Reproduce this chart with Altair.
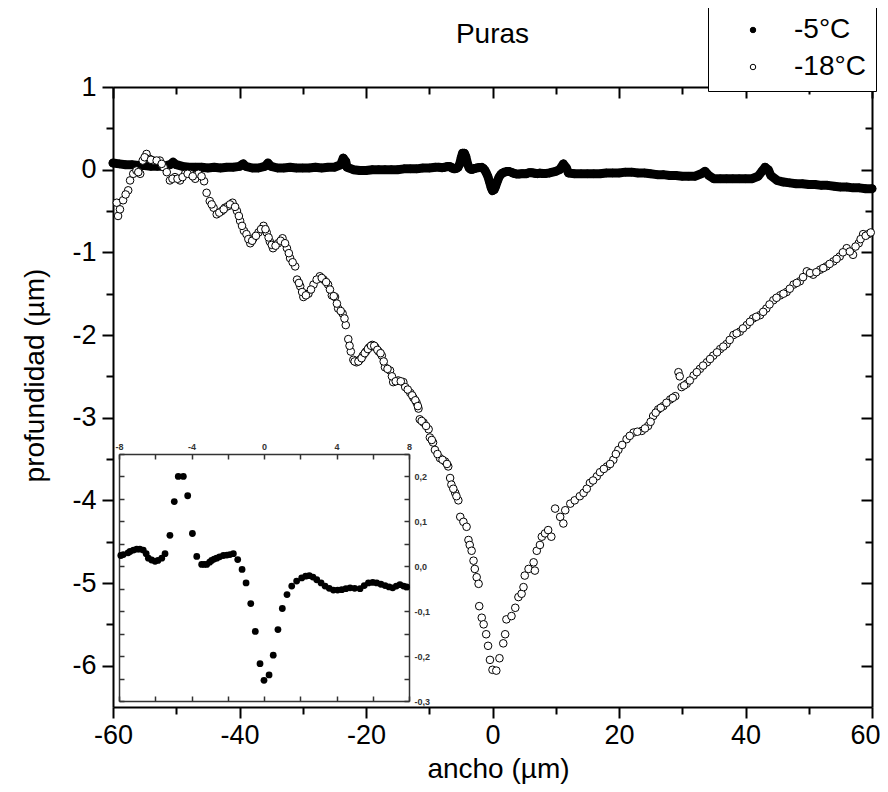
import altair as alt
import pandas as pd

# ---------------- data ----------------
# -5 °C profile outside the inset window (main plot)
x5_left = [-60, -59, -58, -57, -56, -55, -54, -53, -52, -51, -50.5, -50, -49, -48, -47, -46, -45, -44, -43, -42,
           -41, -40, -39.4, -39, -38, -37, -36, -35.5, -35, -34, -33, -32, -31, -30, -29, -28, -27, -26, -25, -24,
           -23.6, -23.2, -23, -22, -21, -20, -19, -18, -17, -16, -15, -14, -13, -12, -11, -10, -9, -8.5]
y5_left = [0.08, 0.07, 0.06, 0.06, 0.05, 0.05, 0.04, 0.04, 0.04, 0.06, 0.09, 0.06, 0.04, 0.03, 0.03, 0.03, 0.02, 0.03, 0.02, 0.03,
           0.03, 0.04, 0.07, 0.04, 0.02, 0.02, 0.04, 0.08, 0.04, 0.02, 0.02, 0.03, 0.02, 0.02, 0.02, 0.03, 0.02, 0.03, 0.03, 0.06,
           0.14, 0.10, 0.03, 0.0, -0.01, -0.01, 0.0, 0.0, 0.0, 0.0, 0.0, 0.01, 0.01, 0.01, 0.02, 0.02, 0.03, 0.03]

# -5 °C profile in the inset window (-8 .. 8 µm)
x_in = [-7.9, -7.76, -7.5, -7.39, -7.2, -7.02, -6.85, -6.66, -6.5, -6.38, -6.2, -6.01, -5.85, -5.64, -5.46, -5.19,
        -4.95, -4.73, -4.45, -4.21, -3.95, -3.71, -3.44, -3.3, -3.16, -3.0, -2.89, -2.75, -2.61, -2.45, -2.24, -2.05,
        -1.88, -1.69, -1.45, -1.21, -0.99, -0.73, -0.48, -0.22, 0.0, 0.28, 0.51, 0.77, 1.01, 1.27, 1.53, 1.8, 2.08,
        2.3, 2.5, 2.7, 2.91, 3.15, 3.37, 3.6, 3.83, 4.06, 4.29, 4.52, 4.75, 5.0, 5.3, 5.53, 5.76, 6.0, 6.22, 6.45,
        6.68, 6.9, 7.1, 7.3, 7.5, 7.7, 7.87]
y_in = [0.024, 0.026, 0.030, 0.033, 0.036, 0.038, 0.038, 0.036, 0.028, 0.018, 0.014, 0.011, 0.013, 0.018, 0.028, 0.069,
        0.144, 0.200, 0.200, 0.157, 0.073, 0.022, 0.004, 0.004, 0.004, 0.009, 0.013, 0.016, 0.018, 0.021, 0.024, 0.025,
        0.026, 0.028, 0.015, -0.007, -0.037, -0.083, -0.145, -0.217, -0.254, -0.242, -0.198, -0.141, -0.094, -0.063,
        -0.044, -0.033, -0.026, -0.022, -0.021, -0.024, -0.030, -0.037, -0.044, -0.049, -0.053, -0.053, -0.052, -0.050,
        -0.048, -0.049, -0.050, -0.043, -0.037, -0.036, -0.037, -0.040, -0.043, -0.046, -0.048, -0.044, -0.041, -0.044,
        -0.046]

x5_right = [8.5, 9, 10, 10.6, 11.2, 11.7, 12, 13, 14, 15, 16, 17, 18, 19, 20, 21, 22, 23, 24, 25, 26, 27, 28, 29, 30,
            31, 32, 33, 33.6, 34.2, 35, 36, 37, 38, 39, 40, 41, 42, 42.6, 43.1, 43.6, 44, 45, 46, 47, 48, 49, 50, 51,
            52, 53, 54, 55, 56, 57, 58, 59, 60]
y5_right = [-0.045, -0.04, -0.02, 0.0, 0.07, 0.02, -0.04, -0.05, -0.05, -0.05, -0.05, -0.05, -0.04, -0.04, -0.04, -0.03,
            -0.03, -0.04, -0.04, -0.05, -0.06, -0.06, -0.07, -0.07, -0.08, -0.08, -0.08, -0.05, -0.02, -0.07, -0.11,
            -0.11, -0.11, -0.11, -0.11, -0.11, -0.11, -0.08, -0.02, 0.03, 0.0, -0.07, -0.13, -0.15, -0.16, -0.17, -0.17,
            -0.18, -0.18, -0.19, -0.19, -0.20, -0.21, -0.21, -0.22, -0.22, -0.23, -0.23]

# -18 °C profile (first pass of readings)
x18_a = [-59.4, -59.2, -58.9, -58.4, -57.6, -57.3, -56.8, -56.3, -55.7, -55.3, -54.7, -54.2, -53.6, -52.6, -52.0, -51.5,
         -51.0, -50.2, -49.4, -48.6, -47.8, -47.0, -46.5, -45.6, -45.2, -44.7, -44.1, -43.6, -42.8, -42.3, -41.8, -41.1,
         -40.4, -39.9, -39.3, -38.9, -38.3, -37.8, -37.0, -36.2, -35.7, -35.2, -34.7, -33.9, -33.2, -32.5, -32.0, -31.2,
         -30.9, -30.4, -29.9, -29.1, -28.3, -27.3, -26.7, -26.0, -25.4, -24.9, -24.4, -23.7, -23.2, -22.8, -22.4, -22.0,
         -21.5, -21.0, -20.5, -20.0, -19.5, -19.0, -18.5, -18.0, -17.5, -17.0, -16.2, -15.7, -14.9, -14.1, -13.8, -13.0,
         -12.5, -12.0, -11.7, -11.5, -10.9, -10.1, -9.9, -9.4, -9.1, -8.3, -7.5, -7.0, -6.7, -6.5, -5.9, -5.4, -5.1, -4.6,
         -4.1, -3.8, -3.6, -3.3, -3.0, -2.8, -2.5, -2.2, -2.1, -1.7, -1.4, -1.0, -0.7, -0.4, 0.0, 0.6, 1.1, 1.7, 2.0, 2.2,
         3.0, 3.6, 4.1, 4.6, 4.9, 5.1, 5.7, 6.5, 6.7, 7.0, 7.5, 7.8, 8.3, 8.8, 9.3, 9.9, 10.7, 11.2, 11.5, 12.3, 13.0,
         13.8, 14.4, 15.4, 16.5, 18.1, 19.1, 19.9, 21.2, 22.3, 23.6, 24.6, 25.4, 26.2, 27.0, 28.1, 28.9, 29.4, 29.9, 30.7,
         31.8, 32.8, 33.9, 34.9, 36.0, 37.0, 38.1, 39.1, 40.2, 41.2, 42.3, 43.3, 44.4, 45.5, 46.5, 47.6, 48.6, 49.7, 50.7,
         51.8, 52.8, 53.9, 54.9, 56.0, 57.0, 57.9, 58.6, 59.4]
y18_a = [-0.40, -0.56, -0.48, -0.37, -0.25, -0.13, -0.05, -0.01, -0.05, 0.11, 0.19, 0.13, 0.11, 0.11, 0.03, -0.03,
         -0.13, -0.09, -0.13, -0.05, -0.05, -0.11, -0.05, -0.14, -0.28, -0.38, -0.46, -0.54, -0.50, -0.46, -0.44, -0.40,
         -0.50, -0.62, -0.74, -0.78, -0.89, -0.83, -0.76, -0.68, -0.76, -0.87, -0.95, -0.89, -0.83, -0.95, -1.07, -1.17,
         -1.33, -1.41, -1.54, -1.50, -1.39, -1.29, -1.33, -1.39, -1.52, -1.54, -1.68, -1.74, -1.88, -2.05, -2.20, -2.30,
         -2.33, -2.30, -2.25, -2.20, -2.15, -2.12, -2.15, -2.20, -2.25, -2.39, -2.43, -2.57, -2.55, -2.57, -2.63, -2.70,
         -2.76, -2.82, -2.89, -3.02, -3.06, -3.14, -3.24, -3.30, -3.39, -3.49, -3.53, -3.59, -3.73, -3.81, -3.91, -4.00,
         -4.20, -4.26, -4.32, -4.48, -4.54, -4.61, -4.73, -4.83, -4.93, -5.01, -5.28, -5.42, -5.50, -5.62, -5.76, -5.93,
         -6.05, -6.06, -5.91, -5.73, -5.62, -5.44, -5.40, -5.30, -5.17, -5.13, -5.05, -4.91, -4.83, -4.75, -4.85, -4.61,
         -4.54, -4.44, -4.40, -4.36, -4.44, -4.10, -4.20, -4.28, -4.12, -4.04, -4.00, -3.95, -3.91, -3.79, -3.71, -3.59,
         -3.51, -3.39, -3.26, -3.18, -3.16, -3.10, -2.98, -2.90, -2.86, -2.78, -2.74, -2.45, -2.63, -2.59, -2.49, -2.41,
         -2.33, -2.25, -2.17, -2.11, -2.00, -1.96, -1.88, -1.80, -1.76, -1.68, -1.58, -1.52, -1.48, -1.39, -1.35, -1.23,
         -1.27, -1.21, -1.17, -1.11, -1.05, -0.95, -1.03, -0.89, -0.78, -0.78]

# -18 °C profile (second pass: the points lying between the first readings)
x18_b = [-58.0, -56.0, -55.0, -54.0, -53.1, -52.3, -50.6, -49.8, -49.0, -48.2, -47.4, -46.0,
         -44.4, -43.2, -42.5, -41.5, -40.7, -40.1, -39.6, -38.6, -38.0, -37.4, -36.6, -35.9, -35.4, -34.9, -34.3,
         -33.5, -32.8, -32.2, -31.6, -30.6, -30.1, -29.5, -28.7, -27.8, -27.0, -26.3, -25.7, -25.1, -24.6, -24.0,
         -23.4, -22.6, -21.8, -21.2, -20.7, -20.2, -19.7, -19.2, -18.7, -18.2, -17.7, -17.2, -16.6, -15.9, -15.3,
         -14.5, -13.4, -12.7, -12.2, -11.8, -11.2, -10.5, -9.6, -8.7, -7.9, -7.2, -6.2, -5.7,
         14.9, 15.9, 17.0, 17.6, 18.6, 19.5, 20.5, 21.7, 22.9, 24.1, 25.0, 25.8, 26.6, 27.5, 28.5, 29.6, 30.3, 31.2,
         32.3, 33.3, 34.4, 35.5, 36.5, 37.5, 38.6, 39.6, 40.7, 41.7, 42.8, 43.8, 44.9, 46.0, 47.0, 48.1, 49.1, 50.2,
         51.2, 52.3, 53.3, 54.4, 55.4, 56.5, 57.4, 58.2, 59.0, 59.8]
y18_b = [-0.30, -0.03, 0.15, 0.12, 0.11, 0.07, -0.11, -0.11, -0.09, -0.05, -0.08, -0.08,
         -0.42, -0.52, -0.48, -0.42, -0.45, -0.56, -0.68, -0.84, -0.86, -0.80, -0.72, -0.72, -0.82, -0.91, -0.92,
         -0.86, -0.89, -1.01, -1.12, -1.37, -1.48, -1.52, -1.45, -1.33, -1.31, -1.36, -1.45, -1.53, -1.62, -1.71,
         -1.80, -2.13, -2.32, -2.32, -2.28, -2.22, -2.17, -2.13, -2.13, -2.18, -2.22, -2.32, -2.41, -2.50, -2.56,
         -2.56, -2.66, -2.73, -2.79, -2.86, -3.04, -3.10, -3.27, -3.44, -3.51, -3.56, -3.86, -3.95,
         -3.86, -3.76, -3.66, -3.62, -3.56, -3.44, -3.33, -3.22, -3.17, -3.13, -3.05, -2.94, -2.88, -2.82, -2.76,
         -2.50, -2.61, -2.55, -2.45, -2.37, -2.29, -2.21, -2.14, -2.06, -1.98, -1.92, -1.84, -1.78, -1.72, -1.63,
         -1.55, -1.50, -1.44, -1.37, -1.30, -1.25, -1.24, -1.19, -1.14, -1.08, -1.00, -0.99, -0.93, -0.84, -0.80,
         -0.76]

series_names = ["-5°C", "-18°C"]
x_major = [-60, -40, -20, 0, 20, 40]
x_last = [60]
x_ticks = [-60, -40, -20, 0, 20, 40, 60]
x_minor = [-50, -30, -10, 10, 30, 50]
y_major = [-6, -5, -4, -3, -2, -1, 0, 1]
y_minor = [-5.5, -4.5, -3.5, -2.5, -1.5, -0.5, 0.5]
xi_labels = [-8, -4, 0, 4, 8]
xi_ticks = [-8, -6, -4, -2, 0, 2, 4, 6, 8]
yi_labels = [-0.3, -0.2, -0.1, 0.0, 0.1, 0.2]
yi_ticks = [-0.3, -0.25, -0.2, -0.15, -0.1, -0.05, 0.0, 0.05, 0.1, 0.15, 0.2, 0.25]

# ---------------- layout ----------------
W, H = 759, 620
FONT = "Liberation Sans"
INS_L, INS_R, INS_T, INS_B = 6, 296, 367, 614

x5 = x5_left + x_in + x5_right
y5 = y5_left + y_in + y5_right
df5 = pd.DataFrame({"x": x5, "y": y5, "serie": series_names[0]})
df18 = pd.DataFrame({"x": x18_a + x18_b, "y": y18_a + y18_b, "serie": series_names[1]})
dfm = pd.concat([df5, df18], ignore_index=True)
dfi = pd.DataFrame({"x": x_in, "y": y_in})


def xs():
    return alt.Scale(domain=[-60, 60], nice=False, zero=False)


def ys():
    return alt.Scale(domain=[-6.5, 1], nice=False, zero=False)


def xis():
    return alt.Scale(domain=[-8, 8], range=[INS_L, INS_R], nice=False, zero=False)


def yis():
    return alt.Scale(domain=[-0.3, 0.25], range=[INS_B, INS_T], nice=False, zero=False)


common = dict(grid=False, domainColor="black", tickColor="black", labelColor="black",
              labelFont=FONT, titleFont=FONT)
minus_fix = "replace(datum.label, '\u2212', '-')"

# main axes (bottom/left with labels)
ax_x_main = alt.Axis(orient="bottom", values=x_ticks, tickSize=11, tickWidth=2, domainWidth=2,
                     labelFontSize=27, labelPadding=4, labelFlush=False, title="ancho (µm)",
                     titleFontSize=28, titleFontWeight="normal", titleX=385, titleY=62,
                     titleBaseline="middle", titleAlign="center",
                     labelExpr="datum.value == 60 ? '' : " + minus_fix, **common)
ax_y_main = alt.Axis(orient="left", values=y_major, tickSize=11, tickWidth=2, domainWidth=2,
                     labelFontSize=27, labelPadding=6, title="profundidad (µm)", titleFontSize=28,
                     titleFontWeight="normal", titleX=-78, titleY=288, titleBaseline="middle",
                     titleAlign="center", titleAngle=270, labelExpr=minus_fix, **common)

line5 = alt.Chart(df5).mark_line(color="black", strokeWidth=9, strokeCap="round", strokeJoin="round").encode(
    x=alt.X("x:Q", scale=xs(), axis=ax_x_main),
    y=alt.Y("y:Q", scale=ys(), axis=ax_y_main),
)

# points + legend + top/right inward major ticks
points = alt.Chart(dfm).mark_point(size=58, stroke="black", strokeWidth=1, opacity=1,
                                   fillOpacity=1, strokeOpacity=1, shape="circle").encode(
    x=alt.X("x:Q", scale=xs(), axis=alt.Axis(orient="bottom", offset=-H, values=x_ticks, labels=False,
                                              tickSize=11, tickWidth=2, domainWidth=2, title=None, **common)),
    y=alt.Y("y:Q", scale=ys(), axis=alt.Axis(orient="left", offset=-W, values=y_major, labels=False,
                                              tickSize=11, tickWidth=2, domainWidth=2, title=None, **common)),
    fill=alt.Fill("serie:N", scale=alt.Scale(domain=series_names, range=["black", "white"]),
                  legend=alt.Legend(title=None, orient="none", legendX=595, legendY=-81,
                                    strokeColor="black", fillColor="white", padding=10,
                                    symbolOffset=21, labelOffset=27, symbolSize=30, symbolType="circle",
                                    symbolStrokeColor="black", symbolStrokeWidth=1,
                                    labelFont=FONT, labelFontSize=28, labelColor="black",
                                    rowPadding=9, labelLimit=200)),
)

# minor ticks (outward on bottom/left)
minor_out = alt.Chart(dfm).mark_point(opacity=0).encode(
    x=alt.X("x:Q", scale=xs(), axis=alt.Axis(orient="bottom", values=x_minor, labels=False, domain=False,
                                              tickSize=7, tickWidth=2, title=None, **common)),
    y=alt.Y("y:Q", scale=ys(), axis=alt.Axis(orient="left", values=y_minor, labels=False, domain=False,
                                              tickSize=7, tickWidth=2, title=None, **common)),
)
# minor ticks (inward on top/right)
minor_in = alt.Chart(dfm).mark_point(opacity=0).encode(
    x=alt.X("x:Q", scale=xs(), axis=alt.Axis(orient="bottom", offset=-H, values=x_minor, labels=False,
                                              domain=False, tickSize=7, tickWidth=2, title=None, **common)),
    y=alt.Y("y:Q", scale=ys(), axis=alt.Axis(orient="left", offset=-W, values=y_minor, labels=False,
                                              domain=False, tickSize=7, tickWidth=2, title=None, **common)),
)
# last x label, kept inside the page edge
last_label = alt.Chart(dfm).mark_point(opacity=0).encode(
    x=alt.X("x:Q", scale=xs(), axis=alt.Axis(orient="bottom", values=x_last, ticks=False, domain=False,
                                              labelFontSize=27, labelPadding=15, labelAlign="right",
                                              labelOffset=8, title=None, **common)),
    y=alt.Y("y:Q", scale=ys(), axis=None),
)

# ---------------- inset ----------------
icommon = dict(grid=False, domainColor="#333333", tickColor="#333333", domainWidth=1.5, tickWidth=1.5,
               title=None)
lab_expr = "replace(replace(format(datum.value, '.1f'), '.', ','), '\u2212', '-')"

inset_pts = alt.Chart(dfi).mark_circle(size=46, color="black", opacity=1).encode(
    x=alt.X("x:Q", scale=xis(), axis=alt.Axis(orient="top", offset=-INS_B, values=xi_ticks, labels=False,
                                               tickSize=5, **icommon)),
    y=alt.Y("y:Q", scale=yis(), axis=alt.Axis(orient="right", offset=-(W - INS_L), values=yi_ticks,
                                               labels=False, tickSize=5, **icommon)),
)
inset_frame = alt.Chart(dfi).mark_point(opacity=0).encode(
    x=alt.X("x:Q", scale=xis(), axis=alt.Axis(orient="bottom", offset=-(H - INS_T), values=xi_ticks,
                                               labels=False, tickSize=5, **icommon)),
    y=alt.Y("y:Q", scale=yis(), axis=alt.Axis(orient="left", offset=-INS_R, values=yi_ticks,
                                               labels=False, tickSize=5, **icommon)),
)
inset_labels = alt.Chart(dfi).mark_point(opacity=0).encode(
    x=alt.X("x:Q", scale=xis(), axis=alt.Axis(orient="top", offset=-INS_T, values=xi_labels, ticks=False,
                                               domain=False, labelFontSize=9, labelFont=FONT, labelColor="#333333",
                                               labelFontWeight="bold", labelPadding=3, labelFlush=False,
                                               grid=False, title=None, labelExpr=minus_fix)),
    y=alt.Y("y:Q", scale=yis(), axis=alt.Axis(orient="right", offset=-(W - INS_R), values=yi_labels,
                                               ticks=False, domain=False, labelFontSize=9, labelFont=FONT,
                                               labelFontWeight="bold", labelColor="#333333", labelPadding=5,
                                               grid=False, title=None, labelExpr=lab_expr)),
)

chart = alt.layer(
    minor_out, minor_in, last_label, line5, points, inset_frame, inset_pts, inset_labels
).resolve_scale(x="independent", y="independent").properties(
    width=W, height=H,
    title=alt.TitleParams("Puras", font=FONT, fontSize=28, fontWeight="normal", color="black",
                          anchor="middle", offset=-43),
    autosize=alt.AutoSizeParams(type="none"),
    padding={"left": 105, "top": 79, "right": 8, "bottom": 77},
).configure_view(stroke=None).configure(background="white")

chart.save("out.html", embed_options={"renderer": "svg", "actions": False})
